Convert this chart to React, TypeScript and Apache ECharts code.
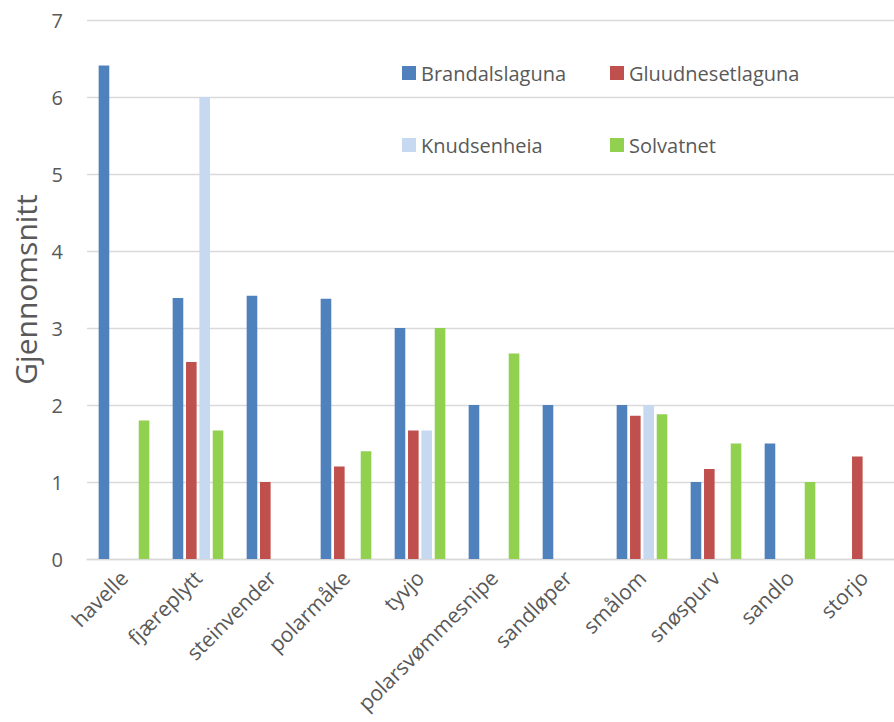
import React, { useEffect, useRef } from "react";
import * as echarts from "echarts";

const categories = [
  "havelle",
  "fjæreplytt",
  "steinvender",
  "polarmåke",
  "tyvjo",
  "polarsvømmesnipe",
  "sandløper",
  "smålom",
  "snøspurv",
  "sandlo",
  "storjo",
];

const brandalslaguna = [6.41, 3.39, 3.42, 3.38, 3.0, 2.0, 2.0, 2.0, 1.0, 1.5, null];
const gluudnesetlaguna = [null, 2.56, 1.0, 1.2, 1.67, null, null, 1.86, 1.17, null, 1.33];
const knudsenheia = [null, 6.0, null, null, 1.67, null, null, 2.0, null, null, null];
const solvatnet = [1.8, 1.67, null, 1.4, 3.0, 2.67, null, 1.88, 1.5, 1.0, null];

const seriesNames = ["Brandalslaguna", "Gluudnesetlaguna", "Knudsenheia", "Solvatnet"];
const seriesValues = [brandalslaguna, gluudnesetlaguna, knudsenheia, solvatnet];
const colors = ["#4F81BD", "#C0504D", "#C6D9F1", "#92D050"];

const yTicks = { min: 0, max: 7, interval: 1 };
const yTitle = "Gjennomsnitt";

const FONT = "'Open Sans', 'Noto Sans', sans-serif";
const TEXT = "#595959";

export default function App() {
  const ref = useRef<HTMLDivElement>(null);

  useEffect(() => {
    if (!ref.current) return;
    const chart = echarts.init(ref.current, undefined, { renderer: "svg" });
    const legendPos = [
      { left: 402, top: 63 },
      { left: 610, top: 63 },
      { left: 402, top: 135 },
      { left: 610, top: 135 },
    ];
    chart.setOption({
      animation: false,
      color: colors,
      textStyle: { fontFamily: FONT },
      grid: {
        left: 87,
        right: 9,
        top: 20,
        bottom: 163,
        containLabel: false,
        outerBoundsMode: "none",
      },
      legend: seriesNames.map((n, i) => ({
        data: [n],
        left: legendPos[i].left,
        top: legendPos[i].top,
        padding: 0,
        itemWidth: 14,
        itemHeight: 14,
        icon: "rect",
        textStyle: { fontFamily: FONT, fontSize: 20, color: TEXT },
      })),
      xAxis: {
        type: "category",
        data: categories,
        axisTick: { show: false },
        axisLine: { lineStyle: { color: "#D9D9D9", width: 1.3 } },
        axisLabel: {
          interval: 0,
          rotate: 45,
          margin: 15,
          fontSize: 21,
          color: TEXT,
          fontFamily: FONT,
        },
      },
      yAxis: {
        type: "value",
        min: yTicks.min,
        max: yTicks.max,
        interval: yTicks.interval,
        name: yTitle,
        nameLocation: "middle",
        nameRotate: 90,
        nameGap: 45,
        nameTextStyle: { fontSize: 30, color: TEXT, fontFamily: FONT },
        axisLine: { show: false },
        axisTick: { show: false },
        axisLabel: { fontSize: 20, color: TEXT, margin: 24, fontFamily: FONT },
        splitLine: { lineStyle: { color: "#D9D9D9", width: 1.3 } },
      },
      series: seriesNames.map((n, i) => ({
        name: n,
        type: "bar",
        data: seriesValues[i],
        barWidth: 10.6,
        barGap: "26%",
        itemStyle: { color: colors[i] },
      })),
    });
    return () => chart.dispose();
  }, []);

  return (
    <div
      style={{
        position: "fixed",
        left: 0,
        top: 0,
        width: 894,
        height: 722,
        overflow: "hidden",
        background: "#fff",
      }}
    >
      <div ref={ref} style={{ width: 910, height: 722 }} />
    </div>
  );
}
